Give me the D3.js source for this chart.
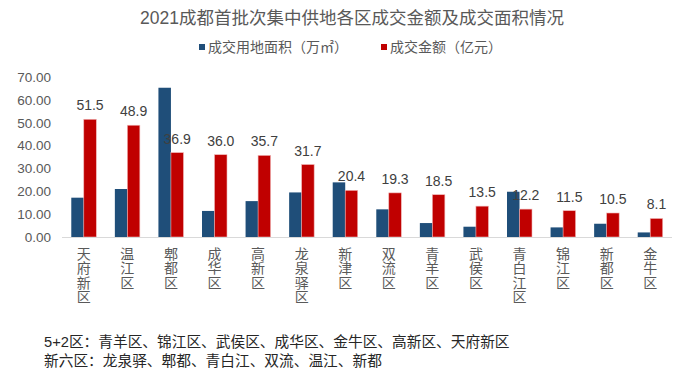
<!DOCTYPE html>
<html>
<head>
<meta charset="utf-8">
<script src="https://cdn.jsdelivr.net/npm/d3@7/dist/d3.min.js"></script>
<style>
  body { margin: 0; background: #fff; }
  svg { display: block; font-family: "Liberation Sans", Arial, "Noto Sans CJK SC", sans-serif; }
</style>
</head>
<body>
<svg id="chart"></svg>
<script>
(() => {

  // data
  const districts = ['天府新区', '温江区', '郫都区', '成华区', '高新区', '龙泉驿区', '新津区',
                     '双流区', '青羊区', '武侯区', '青白江区', '锦江区', '新都区', '金牛区'];
  const landArea  = [17.2, 21.0, 65.3, 11.4, 15.7, 19.5, 23.9, 12.1, 6.1, 4.5, 19.8, 4.2, 5.8, 2.0];
  const dealValue = [51.5, 48.9, 36.9, 36.0, 35.7, 31.7, 20.4, 19.3, 18.5, 13.5, 12.2, 11.5, 10.5, 8.1];
  const yTicks    = [0, 10, 20, 30, 40, 50, 60, 70];
  const seriesNames = ['成交用地面积（万㎡）', '成交金额（亿元）'];
  const noteLines = [
    '5+2区：青羊区、锦江区、武侯区、成华区、金牛区、高新区、天府新区',
    '新六区：龙泉驿、郫都、青白江、双流、温江、新都'
  ];
  const title = '2021成都首批次集中供地各区成交金额及成交面积情况';

  const width  = 700;
  const height = 377;
  const colors = ['#1f4e79', '#c00000'];

  const svg = d3.select('#chart')
    .attr('width', width)
    .attr('height', height);

  // title
  svg.append('text')
    .attr('x', 352)
    .attr('y', 24)
    .attr('text-anchor', 'middle')
    .attr('font-size', 17.5)
    .attr('fill', '#595959')
    .text(title);

  // legend
  const legendX = [199, 381];
  const legend = svg.selectAll('.legend')
    .data(seriesNames)
    .enter()
    .append('g')
    .attr('class', 'legend')
    .attr('transform', (d, i) => `translate(${legendX[i]}, 47)`);

  legend.append('rect')
    .attr('x', 0)
    .attr('y', -3)
    .attr('width', 6)
    .attr('height', 6)
    .attr('fill', (d, i) => colors[i]);

  legend.append('text')
    .attr('x', 9)
    .attr('y', 5)
    .attr('font-size', 14)
    .attr('fill', '#595959')
    .text(d => d);

  // scales
  const x = d3.scaleBand()
    .domain(districts)
    .range([62, 672]);

  const y = d3.scaleLinear()
    .domain([0, 70])
    .range([237, 77]);

  const barW = 12.5;

  // y axis labels (no line, no ticks)
  svg.append('g')
    .attr('transform', 'translate(51, 0)')
    .call(d3.axisLeft(y).tickValues(yTicks).tickFormat(d3.format('.2f')).tickSize(0).tickPadding(0))
    .call(g => g.select('.domain').remove())
    .call(g => g.selectAll('text')
      .attr('font-size', 13.5)
      .attr('font-family', '"Liberation Sans", Arial, sans-serif')
      .attr('fill', '#595959'));

  // bars
  const groups = svg.append('g')
    .selectAll('g')
    .data(districts)
    .enter()
    .append('g')
    .attr('transform', d => `translate(${x(d) + x.bandwidth() / 2}, 0)`);

  groups.append('rect')
    .attr('x', -barW)
    .attr('y', (d, i) => y(landArea[i]))
    .attr('width', barW)
    .attr('height', (d, i) => y(0) - y(landArea[i]))
    .attr('fill', colors[0]);

  groups.append('rect')
    .attr('x', 0)
    .attr('y', (d, i) => y(dealValue[i]))
    .attr('width', barW)
    .attr('height', (d, i) => y(0) - y(dealValue[i]))
    .attr('fill', colors[1])
    .attr('stroke', '#f0b4b4')
    .attr('stroke-width', 0.6);

  // baseline
  svg.append('line')
    .attr('x1', x.range()[0])
    .attr('x2', x.range()[1])
    .attr('y1', y(0) + 0.5)
    .attr('y2', y(0) + 0.5)
    .attr('stroke', '#d9d9d9')
    .attr('stroke-width', 1);

  // data labels for the red series
  groups.append('text')
    .attr('x', barW / 2)
    .attr('y', (d, i) => y(dealValue[i]) - 9)
    .attr('text-anchor', 'middle')
    .attr('font-size', 14)
    .attr('fill', '#404040')
    .text((d, i) => d3.format('.1f')(dealValue[i]));

  // category labels, one character per line
  groups.append('text')
    .attr('text-anchor', 'middle')
    .attr('font-size', 14)
    .attr('fill', '#595959')
    .selectAll('tspan')
    .data(d => Array.from(d))
    .enter()
    .append('tspan')
    .attr('x', 0)
    .attr('y', (c, j) => 258.5 + j * 14.5)
    .text(c => c);

  // notes
  svg.append('g')
    .selectAll('text')
    .data(noteLines)
    .enter()
    .append('text')
    .attr('x', 44)
    .attr('y', (d, i) => 347 + i * 18.5)
    .attr('font-size', 14.7)
    .attr('fill', '#262626')
    .text(d => d);

})();
</script>
</body>
</html>
